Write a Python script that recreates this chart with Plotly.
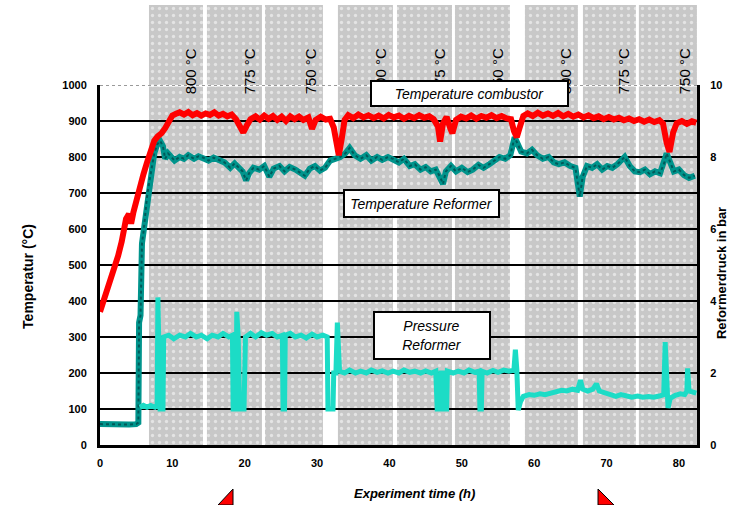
import numpy as np
import plotly.graph_objects as go

# ---------------- data ----------------
band_start = [6.77, 14.78, 22.80, 32.88, 41.04, 49.05, 58.72, 66.74, 74.47]
band_end = [14.23, 22.38, 30.81, 40.48, 48.64, 56.65, 66.04, 74.06, 82.49]
band_labels = ["800 °C", "775 °C", "750 °C", "800 °C", "775 °C", "750 °C", "800 °C", "775 °C", "750 °C"]

comb_t = [0, 0.5, 1, 1.5, 2, 2.5, 3, 3.3, 3.6, 4.0, 4.3, 4.6, 5.0, 5.5, 6.0, 6.5, 7.0, 7.5, 8.0, 8.5,
          9.0, 9.5, 10, 10.5, 11, 11.6, 12.2, 12.8, 13.4, 14, 14.6, 15.2, 15.8, 16.4, 17, 17.6, 18.2, 18.8, 19.3, 19.8,
          20.3, 20.8, 21.5, 22.1, 22.7, 23.3, 23.9, 24.5, 25.1, 25.7, 26.3, 26.9, 27.5, 28.1, 28.8, 29.3, 29.8, 30.5, 31.2, 31.8,
          32.3, 32.7, 33.0, 33.4, 33.8, 34.3, 35, 35.7, 36.4, 37.1, 37.8, 38.5, 39.2, 39.9, 40.6, 41.3, 42, 42.7, 43.4, 44.1,
          44.8, 45.5, 46.1, 46.7, 47.0, 47.4, 47.9, 48.4, 48.7, 49.2, 49.9, 50.6, 51.3, 52, 52.7, 53.4, 54.1, 54.8, 55.5, 56.2,
          56.8, 57.2, 57.6, 58.0, 58.5, 59.1, 59.8, 60.5, 61.2, 61.9, 62.6, 63.3, 64, 64.7, 65.4, 66.1, 66.8, 67.5, 68.2, 68.9,
          69.6, 70.3, 71, 71.7, 72.4, 73.1, 73.8, 74.5, 75.2, 75.9, 76.6, 77.3, 77.8, 78.3, 78.7, 79.2, 79.7, 80.4, 81.1, 81.8,
          82.4]
comb_T = [370, 400, 432, 455, 490, 525, 565, 600, 628, 642, 615, 645, 680, 715, 752, 785, 820, 845, 858, 866,
          880, 902, 915, 920, 924, 918, 925, 916, 922, 915, 921, 917, 924, 915, 920, 913, 918, 905, 882, 868,
          888, 905, 913, 904, 915, 906, 914, 903, 912, 900, 913, 905, 912, 903, 910, 878, 903, 912, 904, 906,
          882, 822, 805, 850, 903, 916, 908, 918, 910, 916, 908, 915, 907, 917, 910, 915, 906, 914, 908, 916,
          909, 913, 905, 885, 843, 893, 911, 880, 866, 903, 912, 907, 915, 906, 914, 909, 916, 908, 914, 907,
          905, 872, 855, 882, 914, 921, 914, 923, 915, 921, 914, 922, 913, 920, 912, 918, 910, 916, 908, 913,
          905, 911, 904, 909, 902, 907, 900, 905, 898, 904, 897, 902, 893, 840, 814, 868, 894, 900, 892, 899,
          895]

ref_t = [0, 1, 2, 3, 4, 5.0, 5.3, 5.4, 5.6, 5.8, 6.0, 6.2, 6.5, 6.8, 7.1, 7.5, 7.9, 8.3, 8.7, 9.0,
         9.4, 9.8, 10.3, 11, 11.6, 12.2, 13, 13.6, 14.3, 15, 15.7, 16.4, 17.2, 18, 18.6, 19.2, 19.7, 20.2, 20.6, 21.2,
         22, 22.7, 23.4, 24, 24.8, 25.5, 26.2, 27, 27.8, 28.3, 29, 29.7, 30.4, 31.1, 31.8, 32.5, 33.2, 33.9, 34.5, 35.2,
         36, 36.8, 37.5, 38.3, 39, 39.8, 40.5, 41.3, 42, 42.8, 43.5, 44.3, 45, 45.7, 46.4, 47.0, 47.4, 47.8, 48.5, 49.2,
         50, 50.8, 51.5, 52.3, 53, 53.8, 54.5, 55.2, 56, 56.7, 57.3, 57.7, 58.2, 59, 59.7, 60.4, 61.2, 62, 62.7, 63.4,
         64.2, 65, 65.7, 66.3, 66.7, 67.3, 68, 68.7, 69.4, 70.1, 70.8, 71.5, 72.5, 73.2, 73.9, 74.6, 75.3, 76, 76.7, 77.4,
         78.0, 78.3, 78.7, 79.3, 80, 80.7, 81.4, 82.2]
ref_T = [58, 57, 57, 57, 57, 58, 62, 340, 360, 560, 590, 640, 690, 730, 770, 810, 835, 845, 830, 795,
         810, 800, 790, 800, 795, 805, 795, 802, 798, 790, 798, 792, 785, 770, 782, 770, 760, 735, 755, 770,
         765, 775, 745, 768, 775, 760, 772, 765, 755, 748, 768, 775, 762, 770, 790, 795, 800, 810, 825, 805,
         795, 805, 790, 800, 792, 800, 795, 785, 795, 775, 780, 765, 772, 760, 765, 745, 725, 760, 775, 760,
         770, 758, 765, 778, 770, 780, 790, 800, 795, 805, 855, 835, 815, 810, 820, 805, 795, 800, 785, 780,
         785, 775, 770, 690, 745, 775, 770, 780, 765, 775, 770, 780, 800, 775, 760, 758, 765, 752, 760, 755,
         785, 810, 790, 760, 765, 750, 742, 748]

pres_t = [5.5, 6.0, 6.5, 7.0, 7.6, 7.9, 8.0, 8.15, 8.3, 8.7, 8.8, 9.5, 10.2, 11, 11.8, 12.5, 13.3, 14, 14.8, 15.5,
          16.3, 17, 17.8, 18.3, 18.4, 18.8, 18.9, 19.1, 19.3, 19.9, 20.1, 20.8, 21.5, 22.3, 23, 23.8, 24.5, 25.2, 25.3, 25.5,
          25.6, 26.3, 27, 27.8, 28.5, 29.3, 30, 30.8, 31.4, 31.5, 32.2, 32.3, 32.6, 32.8, 33.1, 33.8, 34.5, 35.3, 36, 36.8,
          37.5, 38.3, 39, 39.8, 40.5, 41.3, 42, 42.8, 43.5, 44.3, 45, 45.8, 46.4, 46.6, 47.0, 47.1, 47.4, 47.5, 47.9, 48.0,
          48.8, 49.5, 50.3, 51, 51.8, 52.4, 52.5, 52.7, 52.8, 53.5, 54.3, 55, 55.8, 56.5, 57.2, 57.4, 57.6, 57.8, 58.1, 58.5,
          59.3, 60, 60.8, 61.5, 62.3, 63, 63.8, 64.5, 65.3, 66, 66.4, 66.7, 67.4, 68.1, 68.6, 69, 69.8, 70.5, 71.3, 72,
          72.8, 73.5, 74.3, 75, 75.8, 76.5, 77.3, 77.9, 78.1, 78.3, 78.5, 78.8, 79.5, 80.2, 80.8, 81.1, 81.2, 81.4, 82.0, 82.4]
pres_P = [1.05, 1.1, 1.05, 1.1, 1.05, 1.1, 4.1, 3.0, 1.0, 1.0, 3.0, 3.05, 2.95, 3.05, 3.0, 3.1, 3.0, 3.05, 2.95, 3.05,
          3.0, 3.1, 3.0, 3.05, 1.0, 1.0, 3.7, 3.0, 1.0, 1.0, 3.0, 3.1, 3.0, 3.12, 3.05, 3.1, 3.0, 3.05, 1.0, 1.0,
          3.05, 3.1, 3.0, 3.05, 2.97, 3.08, 3.0, 3.05, 3.0, 1.0, 1.0, 2.0, 2.0, 3.4, 2.05, 2.0, 2.08, 2.0, 2.05, 2.0,
          2.08, 2.02, 2.06, 2.0, 2.05, 2.0, 2.08, 2.02, 2.05, 2.0, 2.06, 2.0, 2.05, 1.0, 1.0, 2.0, 2.0, 1.0, 1.0, 2.05,
          2.0, 2.05, 2.0, 2.08, 2.02, 2.05, 1.0, 1.0, 2.05, 2.0, 2.07, 2.02, 2.08, 2.05, 2.08, 2.65, 2.1, 0.97, 1.2, 1.35,
          1.4, 1.38, 1.42, 1.4, 1.45, 1.5, 1.52, 1.5, 1.55, 1.52, 1.8, 1.55, 1.5, 1.55, 1.7, 1.5, 1.45, 1.38, 1.35, 1.4,
          1.35, 1.33, 1.36, 1.33, 1.35, 1.33, 1.36, 1.4, 2.86, 1.4, 1.03, 1.3, 1.38, 1.42, 1.4, 1.5, 2.13, 1.5, 1.45, 1.44]

x_ticks = [0, 10, 20, 30, 40, 50, 60, 70, 80]
temp_ticks = [0, 100, 200, 300, 400, 500, 600, 700, 800, 900, 1000]
pres_ticks = [0, 2, 4, 6, 8, 10]

assert len(comb_t) == len(comb_T)
assert len(ref_t) == len(ref_T)
assert len(pres_t) == len(pres_P)

# ---------------- layout constants ----------------
X_MAX = 82.5
Y_TOP = 1222.2          # band axis (same scale as temperature) reaching to top of figure
TICKFONT = dict(family="Liberation Sans Narrow, Liberation Sans, Arial", size=11, color="black", weight="bold")

bs = np.array(band_start)
be = np.array(band_end)

fig = go.Figure()

# shaded bands (bottom subplot)
fig.add_trace(go.Bar(
    x=(bs + be) / 2, y=[Y_TOP] * len(bs), width=be - bs, base=0,
    xaxis="x", yaxis="y",
    marker=dict(color="#c8c8c8", line=dict(width=0),
                pattern=dict(shape=".", fgcolor="white", bgcolor="#c8c8c8", size=7, solidity=0.18)),
    hoverinfo="skip", showlegend=False))

# data traces
fig.add_trace(go.Scatter(x=ref_t, y=ref_T, xaxis="x2", yaxis="y2", mode="lines",
                         line=dict(color="#00948c", width=6), showlegend=False))
fig.add_trace(go.Scatter(x=ref_t, y=ref_T, xaxis="x2", yaxis="y2", mode="lines",
                         line=dict(color="#005a5a", width=2, dash="dot"), showlegend=False))
fig.add_trace(go.Scatter(x=comb_t, y=comb_T, xaxis="x2", yaxis="y2", mode="lines",
                         line=dict(color="#ff0000", width=6), showlegend=False))
fig.add_trace(go.Scatter(x=pres_t, y=pres_P, xaxis="x2", yaxis="y3", mode="lines",
                         line=dict(color="#1cdcc6", width=5), showlegend=False))

annotations = []
for s, e, lab in zip(band_start, band_end, band_labels):
    annotations.append(dict(x=e - 1.6, y=1039, xref="x2", yref="y", text=lab, textangle=-90,
                            xanchor="center", yanchor="middle", showarrow=False,
                            font=dict(family="Liberation Sans, Arial", size=15, color="black")))

box_font = dict(family="Liberation Sans, Arial", size=14, color="black", style="italic")
annotations += [
    dict(x=51.1, y=976, xref="x2", yref="y", text="Temperature combustor", showarrow=False,
         xanchor="center", yanchor="middle",
         bgcolor="white", bordercolor="black", borderwidth=2, borderpad=1, width=193, height=21, font=box_font),
    dict(x=44.4, y=671, xref="x2", yref="y", text="Temperature Reformer", showarrow=False,
         xanchor="center", yanchor="middle",
         bgcolor="white", bordercolor="black", borderwidth=2, borderpad=1, width=151, height=23, font=box_font),
    dict(x=45.9, y=304, xref="x2", yref="y", text="Pressure<br>Reformer", showarrow=False,
         xanchor="center", yanchor="middle",
         bgcolor="white", bordercolor="black", borderwidth=2, borderpad=1, width=112, height=43, font=box_font),
    dict(x=-0.1206, y=0.382, xref="paper", yref="paper", text="Temperatur (°C)", textangle=-90, showarrow=False,
         xanchor="center", yanchor="middle",
         font=dict(family="Liberation Sans Narrow, Liberation Sans, Arial", size=14, color="black", weight="bold")),
    dict(x=1.042, y=0.391, xref="paper", yref="paper", text="Reformerdruck in bar", textangle=-90, showarrow=False,
         xanchor="center", yanchor="middle",
         font=dict(family="Liberation Sans Narrow, Liberation Sans, Arial", size=13, color="black", weight="bold")),
    dict(x=0.526, y=-0.111, xref="paper", yref="paper", text="Experiment time (h)", showarrow=False,
         xanchor="center", yanchor="middle",
         font=dict(family="Liberation Sans, Arial", size=13, color="black", weight="bold", style="italic")),
]

shapes = [
    dict(type="line", xref="paper", yref="y2", x0=0, x1=1, y0=1000, y1=1000,
         line=dict(color="white", width=3), layer="above"),
    dict(type="line", xref="paper", yref="y2", x0=0, x1=1, y0=1000, y1=1000,
         line=dict(color="#9a9a9a", width=2, dash="dot"), layer="above"),
    dict(type="path", xref="paper", yref="paper",
         path="M 0.1977 -0.1364 L 0.2228 -0.1364 L 0.2228 -0.1000 Z",
         fillcolor="#ff0000", line=dict(color="black", width=1)),
    dict(type="path", xref="paper", yref="paper",
         path="M 0.8342 -0.1000 L 0.8342 -0.1364 L 0.8610 -0.1364 Z",
         fillcolor="#ff0000", line=dict(color="black", width=1)),
]

fig.update_layout(
    width=734, height=505,
    margin=dict(l=100, r=37, t=5, b=60, autoexpand=False),
    paper_bgcolor="white", plot_bgcolor="rgba(0,0,0,0)",
    showlegend=False,
    xaxis=dict(domain=[0, 1], range=[0, X_MAX], visible=False, anchor="y", fixedrange=True, automargin=False),
    yaxis=dict(domain=[0, 1], range=[0, Y_TOP], visible=False, anchor="x", fixedrange=True, automargin=False),
    xaxis2=dict(domain=[0, 1], range=[0, X_MAX], anchor="y2", showline=True, linecolor="black", linewidth=3,
                tickvals=x_ticks, showgrid=False, zeroline=False, ticks="", tickfont=TICKFONT,
                ticklabelstandoff=6, automargin=False),
    yaxis2=dict(domain=[0, 1000 / Y_TOP], range=[0, 1000], anchor="x2", showline=True, linecolor="black",
                linewidth=3, tickvals=temp_ticks, showgrid=True, gridcolor="black", gridwidth=2,
                zeroline=False, ticks="", tickfont=TICKFONT, ticklabelstandoff=8, automargin=False),
    yaxis3=dict(overlaying="y2", side="right", range=[0, 10], anchor="x2", showline=True, linecolor="black",
                linewidth=3, tickvals=pres_ticks, showgrid=False, zeroline=False, ticks="", tickfont=TICKFONT,
                ticklabelstandoff=8, automargin=False),
    annotations=annotations,
    shapes=shapes,
)

fig.write_html("out.html")
